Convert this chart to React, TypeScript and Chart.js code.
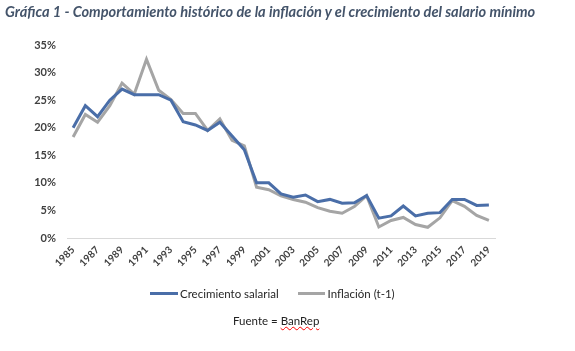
import React, { useEffect, useRef } from "react";
import { Chart, registerables } from "chart.js";

Chart.register(...registerables);

const years: string[] = [
  "1985", "1986", "1987", "1988", "1989", "1990", "1991", "1992", "1993", "1994",
  "1995", "1996", "1997", "1998", "1999", "2000", "2001", "2002", "2003", "2004",
  "2005", "2006", "2007", "2008", "2009", "2010", "2011", "2012", "2013", "2014",
  "2015", "2016", "2017", "2018", "2019",
];

const crecimientoSalarial: number[] = [
  20, 24, 22, 25, 27, 26, 26, 26, 25, 21.1,
  20.5, 19.5, 21, 18.5, 16, 10, 10, 8, 7.4, 7.8,
  6.6, 7, 6.3, 6.4, 7.7, 3.6, 4, 5.8, 4, 4.5,
  4.6, 7, 7, 5.9, 6,
];

const inflacion: number[] = [
  18.3, 22.4, 21, 24, 28.1, 26.1, 32.4, 26.8, 25.1, 22.6,
  22.6, 19.5, 21.6, 17.7, 16.7, 9.2, 8.75, 7.65, 6.99, 6.49,
  5.5, 4.85, 4.48, 5.69, 7.67, 2.0, 3.17, 3.73, 2.44, 1.94,
  3.66, 6.77, 5.75, 4.09, 3.18,
];

const yTicks: number[] = [0, 5, 10, 15, 20, 25, 30, 35];

const title = "Gráfica 1 - Comportamiento histórico de la inflación y el crecimiento del salario mínimo";
const seriesNames = ["Crecimiento salarial", "Inflación (t-1)"];
const sourceLabel = "Fuente = ";
const sourceName = "BanRep";

const BLUE = "#4A6EA8";
const GRAY = "#A5A5A5";
const TEXT = "#404040";
const FONT = "Lato, 'Open Sans', sans-serif";

export default function App() {
  const ref = useRef<HTMLCanvasElement | null>(null);

  useEffect(() => {
    document.body.style.margin = "0";
    const ctx = ref.current;
    if (!ctx) return;
    const chart = new Chart(ctx, {
      type: "line",
      data: {
        labels: years,
        datasets: [
          {
            label: seriesNames[0],
            data: crecimientoSalarial,
            borderColor: BLUE,
            backgroundColor: BLUE,
            borderWidth: 3,
            pointRadius: 0,
            tension: 0,
          },
          {
            label: seriesNames[1],
            data: inflacion,
            borderColor: GRAY,
            backgroundColor: GRAY,
            borderWidth: 3,
            pointRadius: 0,
            tension: 0,
          },
        ],
      },
      options: {
        animation: false,
        responsive: false,
        maintainAspectRatio: false,
        layout: { padding: { left: 0, right: 80, top: 45, bottom: 0 } },
        plugins: {
          legend: { display: false },
          title: { display: false },
          tooltip: { enabled: false },
        },
        scales: {
          x: {
            type: "category",
            offset: true,
            grid: { display: false, drawTicks: false },
            border: { display: true, color: "#D9D9D9", width: 1 },
            ticks: {
              autoSkip: false,
              minRotation: 45,
              maxRotation: 45,
              padding: 6,
              color: TEXT,
              font: { family: FONT, size: 10, weight: "bold" },
              callback: function (_v: any, i: number) {
                return i % 2 === 0 ? years[i] : "";
              },
            },
            afterFit: (s: any) => {
              s.height = 113;
            },
          },
          y: {
            min: 0,
            max: 35,
            afterBuildTicks: (s: any) => {
              s.ticks = yTicks.map((v) => ({ value: v }));
            },
            grid: { display: false, drawTicks: false },
            border: { display: false },
            ticks: {
              padding: 11,
              color: TEXT,
              font: { family: FONT, size: 11, weight: "bold" },
              callback: (v: any) => v + "%",
            },
            afterFit: (s: any) => {
              s.width = 67;
            },
          },
        },
      },
    });
    return () => chart.destroy();
  }, []);

  return (
    <div style={{ position: "relative", width: 575, height: 351, background: "#fff", overflow: "hidden" }}>
      <canvas ref={ref} width={575} height={351} style={{ position: "absolute", left: 0, top: 0 }} />
      <div
        style={{
          position: "absolute",
          left: 5,
          top: 2,
          fontFamily: FONT,
          fontStyle: "italic",
          fontWeight: "bold",
          fontSize: 14.6,
          lineHeight: "20px",
          color: "#44546A",
          whiteSpace: "nowrap",
        }}
      >
        {title}
      </div>
      <div
        style={{
          position: "absolute",
          left: 150,
          top: 285,
          height: 16,
          display: "flex",
          alignItems: "center",
          fontFamily: FONT,
          fontSize: 11.5,
          color: "#262626",
          whiteSpace: "nowrap",
        }}
      >
        <span style={{ display: "inline-block", width: 28, height: 3, background: BLUE, marginRight: 2 }} />
        <span>{seriesNames[0]}</span>
        <span style={{ display: "inline-block", width: 27, height: 3, background: GRAY, marginLeft: 19, marginRight: 3 }} />
        <span>{seriesNames[1]}</span>
      </div>
      <div
        style={{
          position: "absolute",
          left: 233,
          top: 313,
          lineHeight: "16px",
          fontFamily: FONT,
          fontSize: 11.5,
          color: "#222",
          whiteSpace: "nowrap",
        }}
      >
        {sourceLabel}
        <span style={{ textDecoration: "underline wavy red", textDecorationThickness: 1 }}>{sourceName}</span>
      </div>
    </div>
  );
}
